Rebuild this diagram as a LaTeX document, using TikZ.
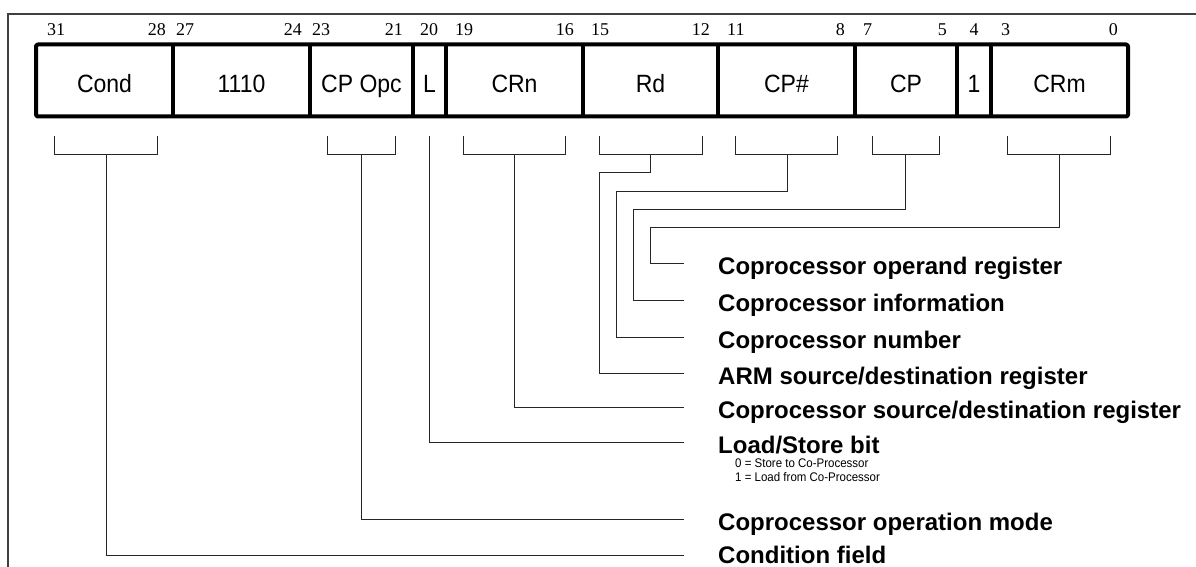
\documentclass[tikz,border=0pt]{standalone}
\usepackage{fontspec}
\setmainfont{Liberation Sans}
\newfontfamily\numfont{Liberation Serif}
\newfontfamily\fieldfont[FakeStretch=0.92]{Liberation Sans}
\newfontfamily\subfont[FakeStretch=0.92]{Liberation Sans}
\begin{document}
\begin{tikzpicture}[x=1pt,y=-1pt,
  frame/.style={line width=1.2pt,black!75},
  box/.style={line width=4pt,black,line join=round},
  fieldtxt/.style={inner sep=0pt,anchor=base,font=\fieldfont\fontsize{25}{25}\selectfont},
  bitnum/.style={inner sep=0pt,font=\numfont\fontsize{18}{18}\selectfont},
  conn/.style={line width=1pt,black!85},
  lbl/.style={inner sep=0pt,anchor=base west,font=\bfseries\fontsize{24}{24}\selectfont},
  sublbl/.style={inner sep=0pt,anchor=base west,font=\subfont\fontsize{12.5}{12.5}\selectfont}]
\useasboundingbox (0,0) rectangle (1196,567);
% outer frame
\draw[frame] (8,567) -- (8,14) -- (1196,14);
% instruction box
\draw[box,rounded corners=2pt] (36,44.5) rectangle (1128,116.5);
\foreach \x in {173,310,413,446,583,718,855,957,991}
  \draw[box] (\x,44.5) -- (\x,116.5);
% field texts
\node[fieldtxt] (fcond) at (104.5,92.5) {Cond};
\node[fieldtxt] (f1110) at (241.5,92.5) {1110};
\node[fieldtxt] (fopc) at (361.5,92.5) {CP Opc};
\node[fieldtxt] (fl) at (429.5,92.5) {L};
\node[fieldtxt] (fcrn) at (514.5,92.5) {CRn};
\node[fieldtxt] (frd) at (650.5,92.5) {Rd};
\node[fieldtxt] (fcpn) at (786.5,92.5) {CP\#};
\node[fieldtxt] (fcp) at (906,92.5) {CP};
\node[fieldtxt] (fone) at (974,92.5) {1};
\node[fieldtxt] (fcrm) at (1059.5,92.5) {CRm};
% bit numbers
\node[bitnum,anchor=base west] (b31) at (47,36) {31};
\node[bitnum,anchor=base east] (b28) at (166,36) {28};
\node[bitnum,anchor=base west] (b27) at (176,36) {27};
\node[bitnum,anchor=base east] (b24) at (302,36) {24};
\node[bitnum,anchor=base west] (b23) at (312,36) {23};
\node[bitnum,anchor=base east] (b21) at (403,36) {21};
\node[bitnum,anchor=base] (b20) at (429,36) {20};
\node[bitnum,anchor=base west] (b19) at (455,36) {19};
\node[bitnum,anchor=base east] (b16) at (574,36) {16};
\node[bitnum,anchor=base west] (b15) at (591,36) {15};
\node[bitnum,anchor=base east] (b12) at (710,36) {12};
\node[bitnum,anchor=base west] (b11) at (727,36) {11};
\node[bitnum,anchor=base east] (b8) at (845,36) {8};
\node[bitnum,anchor=base west] (b7) at (863,36) {7};
\node[bitnum,anchor=base east] (b5) at (947,36) {5};
\node[bitnum,anchor=base] (b4) at (974,36) {4};
\node[bitnum,anchor=base west] (b3) at (1001,36) {3};
\node[bitnum,anchor=base east] (b0) at (1118,36) {0};
% labels
\node[lbl] (lop) at (718,274) {Coprocessor operand register};
\node[lbl] (linf) at (718,311) {Coprocessor information};
\node[lbl] (lnum) at (718,348) {Coprocessor number};
\node[lbl] (larm) at (718,384) {ARM source/destination register};
\node[lbl] (lcsd) at (718,418) {Coprocessor source/destination register};
\node[lbl] (lls) at (718,453) {Load/Store bit};
\node[sublbl] (ls0) at (735,467) {0 = Store to Co-Processor};
\node[sublbl] (ls1) at (735,481) {1 = Load from Co-Processor};
\node[lbl] (lmode) at (718,530) {Coprocessor operation mode};
\node[lbl] (lcond) at (718,563.5) {Condition field};
% connector end points
\coordinate (eop) at (684,263);
\coordinate (einf) at (684,300);
\coordinate (enum) at (684,337);
\coordinate (earm) at (684,373);
\coordinate (ecsd) at (684,407);
\coordinate (els) at (684,442);
\coordinate (emode) at (684,519);
\coordinate (econd) at (684,555);
% brackets and connectors
\draw[conn] (54,136) -- (54,154) -- (157,154) -- (157,136);
\draw[conn] (106,154) |- (econd);
\draw[conn] (327,136) -- (327,154) -- (395,154) -- (395,136);
\draw[conn] (361,154) |- (emode);
\draw[conn] (429,136) |- (els);
\draw[conn] (463,136) -- (463,154) -- (565,154) -- (565,136);
\draw[conn] (514,154) |- (ecsd);
\draw[conn] (599,136) -- (599,154) -- (702,154) -- (702,136);
\draw[conn] (650,154) -- (650,172) -- (599,172) |- (earm);
\draw[conn] (735,136) -- (735,154) -- (837,154) -- (837,136);
\draw[conn] (787,154) -- (787,191) -- (616,191) |- (enum);
\draw[conn] (872,136) -- (872,154) -- (939,154) -- (939,136);
\draw[conn] (905,154) -- (905,209) -- (633,209) |- (einf);
\draw[conn] (1007,136) -- (1007,154) -- (1110,154) -- (1110,136);
\draw[conn] (1059,154) -- (1059,227) -- (650,227) |- (eop);
\end{tikzpicture}
\end{document}
